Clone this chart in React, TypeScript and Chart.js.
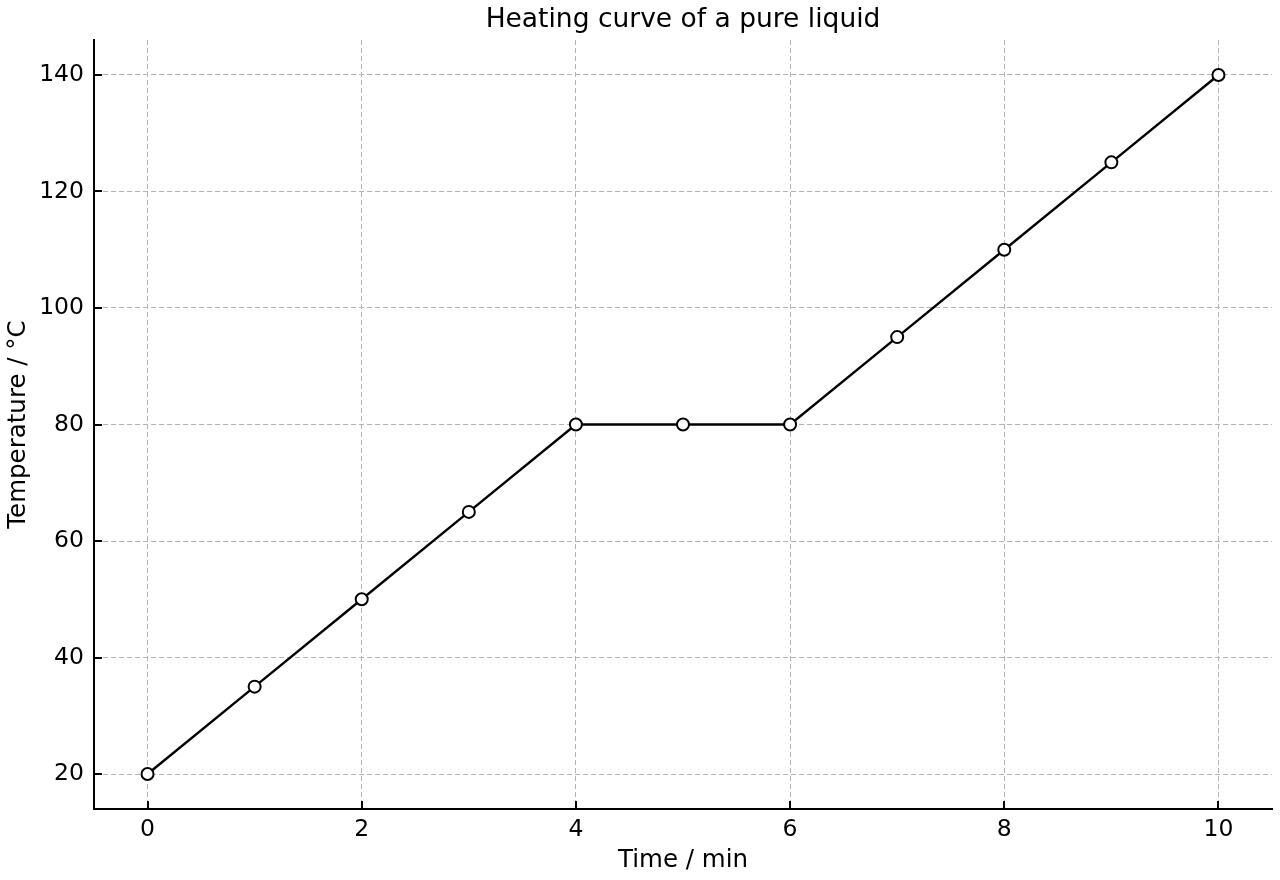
import React, { useEffect, useRef } from "react";
import { Chart, registerables } from "chart.js";

Chart.register(...registerables);

const timeMin = [0, 1, 2, 3, 4, 5, 6, 7, 8, 9, 10];
const temperatureC = [20, 35, 50, 65, 80, 80, 80, 95, 110, 125, 140];
const xTicks = [0, 2, 4, 6, 8, 10];
const yTicks = [20, 40, 60, 80, 100, 120, 140];
const chartTitle = "Heating curve of a pure liquid";

const FONT = "'DejaVu Sans', sans-serif";

const inwardTicks = {
  id: "inwardTicks",
  afterDraw(chart: any) {
    const { ctx, chartArea, scales } = chart;
    const len = 8;
    ctx.save();
    ctx.strokeStyle = "#000";
    ctx.lineWidth = 2;
    ctx.beginPath();
    for (const t of scales.x.ticks) {
      const px = Math.round(scales.x.getPixelForValue(t.value));
      ctx.moveTo(px, chartArea.bottom);
      ctx.lineTo(px, chartArea.bottom - len);
    }
    for (const t of scales.y.ticks) {
      const py = Math.round(scales.y.getPixelForValue(t.value));
      ctx.moveTo(chartArea.left, py);
      ctx.lineTo(chartArea.left + len, py);
    }
    ctx.stroke();
    // title centred over the plot area
    ctx.fillStyle = "#000";
    ctx.font = `26.5px ${FONT}`;
    ctx.textAlign = "center";
    ctx.textBaseline = "alphabetic";
    ctx.fillText(chartTitle, (chartArea.left + chartArea.right) / 2, 27);
    ctx.restore();
  },
};

export default function App() {
  const ref = useRef<HTMLCanvasElement | null>(null);
  useEffect(() => {
    if (!ref.current) return;
    Chart.defaults.font.family = FONT;
    Chart.defaults.color = "#000";
    const chart = new Chart(ref.current, {
      type: "line",
      data: {
        datasets: [
          {
            data: timeMin.map((t, i) => ({ x: t, y: temperatureC[i] })),
            borderColor: "#000",
            borderWidth: 2.4,
            pointRadius: 6,
            pointBorderWidth: 2,
            pointBackgroundColor: "#fff",
            pointBorderColor: "#000",
            tension: 0,
          },
        ],
      },
      options: {
        responsive: false,
        animation: false,
        events: [],
        layout: { padding: { top: 40, right: 7, left: 0, bottom: 0 } },
        plugins: {
          legend: { display: false },
          tooltip: { enabled: false },
          title: { display: false },
        },
        scales: {
          x: {
            type: "linear",
            min: -0.5,
            max: 10.5,
            afterBuildTicks: (s: any) => {
              s.ticks = xTicks.map((v) => ({ value: v }));
            },
            afterFit: (s: any) => {
              s.height = 71;
            },
            ticks: { font: { size: 23.5 }, padding: 7, color: "#000" },
            grid: { color: "#b5b5b5", lineWidth: 1, drawTicks: false },
            border: { color: "#000", width: 2, dash: [5, 3] },
            title: {
              display: true,
              text: "Time / min",
              color: "#000",
              font: { size: 24.5 },
              padding: { top: 0, bottom: 5 },
            },
          },
          y: {
            type: "linear",
            min: 14,
            max: 146,
            afterBuildTicks: (s: any) => {
              s.ticks = yTicks.map((v) => ({ value: v }));
            },
            afterFit: (s: any) => {
              s.width = 94;
            },
            ticks: { font: { size: 23.5 }, padding: 10, color: "#000" },
            grid: { color: "#b5b5b5", lineWidth: 1, drawTicks: false },
            border: { color: "#000", width: 2, dash: [5, 3] },
            title: {
              display: true,
              text: "Temperature / °C",
              color: "#000",
              font: { size: 24.5 },
              padding: { top: 4, bottom: 0 },
            },
          },
        },
      },
      plugins: [inwardTicks],
    });
    return () => chart.destroy();
  }, []);
  return (
    <div style={{ position: "absolute", top: 0, left: 0, width: 1280, height: 880, background: "#fff" }}>
      <canvas ref={ref} width={1280} height={880} style={{ display: "block" }} />
    </div>
  );
}
